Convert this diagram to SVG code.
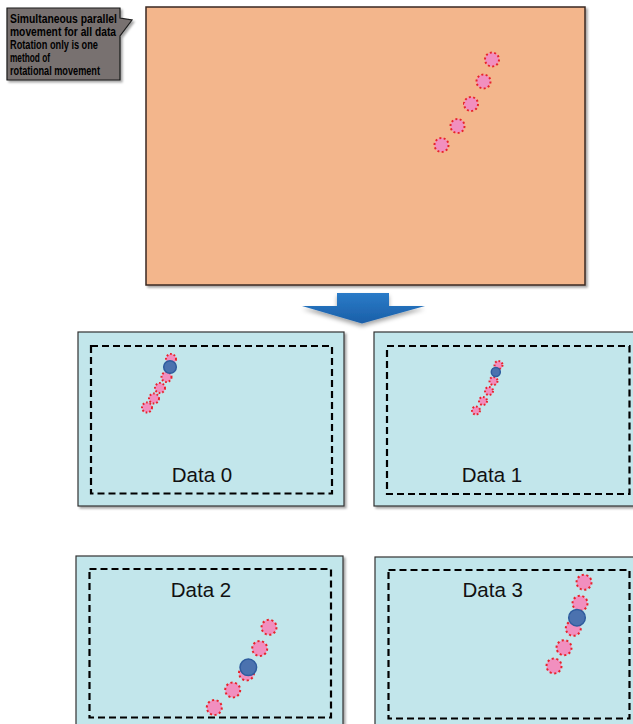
<svg xmlns="http://www.w3.org/2000/svg" width="633" height="724" viewBox="0 0 633 724">
<defs>
<filter id="sh" x="-10%" y="-10%" width="130%" height="130%"><feDropShadow dx="2" dy="2" stdDeviation="1.2" flood-color="#000" flood-opacity="0.35"/></filter>
<filter id="ash" x="-20%" y="-20%" width="140%" height="160%"><feDropShadow dx="0" dy="3" stdDeviation="2" flood-color="#000" flood-opacity="0.35"/></filter>
<linearGradient id="ag" x1="0" y1="0" x2="0" y2="1"><stop offset="0" stop-color="#2A7BC8"/><stop offset="1" stop-color="#1A5FA8"/></linearGradient>
</defs>
<style>
.panel{fill:#C2E6EB;stroke:#333;stroke-width:1.2;filter:url(#sh)}
.dash{fill:none;stroke:#000;stroke-width:2.2;stroke-dasharray:7 4}
.lbl{font-family:"Liberation Sans",Arial,sans-serif;font-size:20.5px;fill:#111;text-anchor:middle}
.pk{fill:#F18FBF;stroke:#E8232B;stroke-width:2;stroke-dasharray:1.1 1.3}
.bl{fill:#4B72AF;stroke:#2E5C9E;stroke-width:1.5}
.ct{font-family:"Liberation Sans",Arial,sans-serif;font-weight:bold;font-size:12.5px;fill:#000}
</style>
<g id="callout">
<path d="M7,8 H120 V18 L132,20 L120,36 V80 H7 Z" fill="#787170" stroke="#1a1a1a" stroke-width="1.2" filter="url(#sh)"/>
<text class="ct" x="10" y="23" textLength="107" lengthAdjust="spacingAndGlyphs">Simultaneous parallel</text>
<text class="ct" x="10" y="35.5" textLength="106" lengthAdjust="spacingAndGlyphs">movement for all data</text>
<text class="ct" x="10" y="48.5" textLength="88" lengthAdjust="spacingAndGlyphs">Rotation only is one</text>
<text class="ct" x="10" y="62" textLength="40" lengthAdjust="spacingAndGlyphs">method of</text>
<text class="ct" x="10" y="74.5" textLength="90" lengthAdjust="spacingAndGlyphs">rotational movement</text>
</g>
<g id="main">
<rect x="146" y="7" width="439" height="278" fill="#F3B68C" stroke="#3a2a22" stroke-width="1.5" filter="url(#sh)"/>
<circle class="pk" cx="492" cy="59.5" r="7" pathLength="24"/>
<circle class="pk" cx="483.5" cy="81.5" r="7" pathLength="24"/>
<circle class="pk" cx="471" cy="104" r="7" pathLength="24"/>
<circle class="pk" cx="457.5" cy="126" r="7" pathLength="24"/>
<circle class="pk" cx="441.5" cy="145" r="7" pathLength="24"/>
</g>
<g id="connectors">
<polygon points="337,293 389,293 389,306 425,306 362,323.5 302,306 337,306" fill="url(#ag)" filter="url(#ash)"/>
</g>
<g id="data0">
<rect class="panel" x="78" y="332" width="266" height="174"/>
<rect class="dash" x="91" y="346" width="241" height="147.5"/>
<circle class="pk" cx="171" cy="359" r="5" pathLength="20"/>
<circle class="pk" cx="166.5" cy="377" r="5" pathLength="20"/>
<circle class="pk" cx="160" cy="388" r="5" pathLength="20"/>
<circle class="pk" cx="154" cy="398.5" r="5" pathLength="20"/>
<circle class="pk" cx="147" cy="407.5" r="5" pathLength="20"/>
<circle class="bl" cx="170" cy="367" r="6.3"/>
<text class="lbl" x="202" y="482">Data 0</text>
</g>
<g id="data1">
<rect class="panel" x="374" y="332" width="262" height="174"/>
<rect class="dash" x="387" y="346" width="242.5" height="148"/>
<circle class="pk" cx="498.5" cy="365" r="4" pathLength="16"/>
<circle class="pk" cx="493.5" cy="381" r="4" pathLength="16"/>
<circle class="pk" cx="489" cy="391" r="4" pathLength="16"/>
<circle class="pk" cx="483" cy="401" r="4" pathLength="16"/>
<circle class="pk" cx="476" cy="410.5" r="4" pathLength="16"/>
<circle class="bl" cx="495.8" cy="372" r="4.5"/>
<text class="lbl" x="492" y="482">Data 1</text>
</g>
<g id="data2">
<rect class="panel" x="76" y="556" width="267" height="180"/>
<rect class="dash" x="89.5" y="569" width="241.5" height="148.5"/>
<circle class="pk" cx="269" cy="627.3" r="7.5" pathLength="24"/>
<circle class="pk" cx="259.7" cy="648.5" r="7.5" pathLength="24"/>
<circle class="pk" cx="246.5" cy="673" r="7.5" pathLength="24"/>
<circle class="pk" cx="232.7" cy="690" r="7.5" pathLength="24"/>
<circle class="pk" cx="214.3" cy="707.5" r="7.5" pathLength="24"/>
<circle class="bl" cx="248.3" cy="667.3" r="8.3"/>
<text class="lbl" x="201" y="597">Data 2</text>
</g>
<g id="data3">
<rect class="panel" x="375" y="557" width="262" height="180"/>
<rect class="dash" x="388.5" y="570" width="241" height="148.5"/>
<circle class="pk" cx="584" cy="582.3" r="7.5" pathLength="24"/>
<circle class="pk" cx="580" cy="603.3" r="7.5" pathLength="24"/>
<circle class="pk" cx="573.3" cy="628.3" r="7.5" pathLength="24"/>
<circle class="pk" cx="564" cy="647.7" r="7.5" pathLength="24"/>
<circle class="pk" cx="554" cy="666" r="7.5" pathLength="24"/>
<circle class="bl" cx="577" cy="617.7" r="8.3"/>
<text class="lbl" x="492.7" y="597">Data 3</text>
</g>
</svg>
